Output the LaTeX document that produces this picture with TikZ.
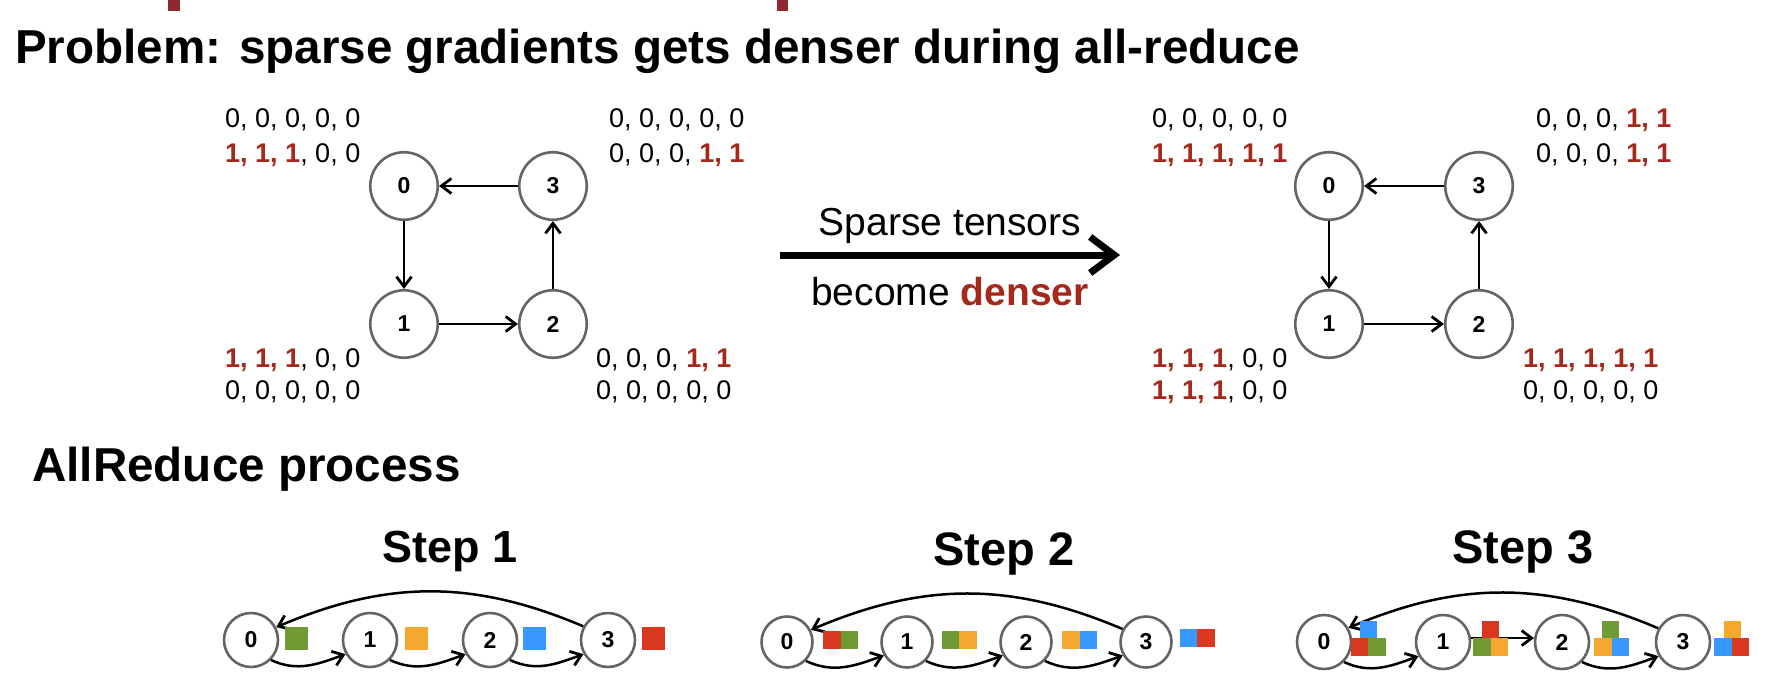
\documentclass[tikz,border=0pt]{standalone}
\usepackage{fontspec}
\setmainfont{Liberation Sans}
\usetikzlibrary{arrows.meta}
\definecolor{txtred}{RGB}{166,40,26}
\definecolor{markred}{RGB}{145,40,48}
\definecolor{ringgray}{RGB}{100,100,100}
\definecolor{cgreen}{RGB}{112,155,52}
\definecolor{corange}{RGB}{244,168,48}
\definecolor{cblue}{RGB}{56,152,255}
\definecolor{cred}{RGB}{216,56,32}
\newcommand\redb[1]{\textcolor{txtred}{\bfseries #1}}
\begin{document}
\begin{tikzpicture}[x=1pt,y=1pt,
  num/.style={anchor=base west, inner sep=0pt, font=\fontsize{27}{32}\selectfont},
  headline/.style={anchor=base west, inner sep=0pt, font=\fontsize{47.6}{56}\selectfont\bfseries},
  steplabel/.style={anchor=base, inner sep=0pt, font=\fontsize{#1}{56}\selectfont\bfseries},
  bignode/.style={circle, draw=ringgray, line width=2.6pt, minimum size=67.5pt, inner sep=0pt, font=\fontsize{23}{27}\selectfont\bfseries},
  smallnode/.style={circle, draw=ringgray, line width=2.6pt, minimum size=#1, inner sep=0pt, font=\fontsize{23}{27}\selectfont\bfseries},
  arr/.style={line width=2.5pt, -{Straight Barb[length=10pt,width=15pt,line width=2.8pt]}},
  sq/.style={fill=#1, draw=none, inner sep=0pt, minimum size=23pt},
  sqs/.style={fill=#1, draw=none, inner sep=0pt, minimum size=17.5pt}
]
\useasboundingbox (0,0) rectangle (1790,-686);

% top marks
\fill[markred] (168,0) rectangle (180,-11);
\fill[markred] (777,0) rectangle (788,-11);

% headings
\node[headline] (title) at (15,-63) {Problem: sparse gradients gets denser during all-reduce};
\node[headline] (allred) at (32,-481) {AllReduce process};

% ---------- left graph ----------
\node[bignode] (L0) at (404,-186) {0};
\node[bignode] (L3) at (553,-186) {3};
\node[bignode] (L1) at (404,-324) {1};
\node[bignode] (L2) at (553,-324) {2};
\draw[arr] (L3) -- (L0);
\draw[arr] (L0) -- (L1);
\draw[arr] (L1) -- (L2);
\draw[arr] (L2) -- (L3);

\node[num] (ltlA) at (225,-127) {0, 0, 0, 0, 0};
\node[num] (ltlB) at (225,-162) {\redb{1, 1, 1}, 0, 0};
\node[num] (ltrA) at (609,-127) {0, 0, 0, 0, 0};
\node[num] (ltrB) at (609,-162) {0, 0, 0, \redb{1, 1}};
\node[num] (lblA) at (225,-367) {\redb{1, 1, 1}, 0, 0};
\node[num] (lblB) at (225,-399) {0, 0, 0, 0, 0};
\node[num] (lbrA) at (596,-367) {0, 0, 0, \redb{1, 1}};
\node[num] (lbrB) at (596,-399) {0, 0, 0, 0, 0};

% ---------- middle arrow ----------
\coordinate (bigS) at (780,-255);
\coordinate (bigE) at (1120,-255);
\draw[line width=7pt, -{Straight Barb[length=24pt,width=36pt]}] (bigS) -- (bigE);
\node[anchor=base, inner sep=0pt, font=\fontsize{39}{46}\selectfont] (sp) at (950,-235) {Sparse tensors};
\node[anchor=base, inner sep=0pt, font=\fontsize{39}{46}\selectfont] (bd) at (950,-305) {become \redb{denser}};

% ---------- right graph ----------
\node[bignode] (R0) at (1329,-186) {0};
\node[bignode] (R3) at (1479,-186) {3};
\node[bignode] (R1) at (1329,-324) {1};
\node[bignode] (R2) at (1479,-324) {2};
\draw[arr] (R3) -- (R0);
\draw[arr] (R0) -- (R1);
\draw[arr] (R1) -- (R2);
\draw[arr] (R2) -- (R3);

\node[num] (rtlA) at (1152,-127) {0, 0, 0, 0, 0};
\node[num] (rtlB) at (1152,-162) {\redb{1, 1, 1, 1, 1}};
\node[num] (rtrA) at (1536,-127) {0, 0, 0, \redb{1, 1}};
\node[num] (rtrB) at (1536,-162) {0, 0, 0, \redb{1, 1}};
\node[num] (rblA) at (1152,-367) {\redb{1, 1, 1}, 0, 0};
\node[num] (rblB) at (1152,-399) {\redb{1, 1, 1}, 0, 0};
\node[num] (rbrA) at (1523,-367) {\redb{1, 1, 1, 1, 1}};
\node[num] (rbrB) at (1523,-399) {0, 0, 0, 0, 0};

% ---------- Step 1 ----------
\node[steplabel=45] (st1) at (450,-562) {Step 1};
\node[smallnode=54pt] (a0) at (251,-640) {0};
\node[smallnode=54pt] (a1) at (370,-640) {1};
\node[smallnode=54pt] (a2) at (490,-640) {2};
\node[smallnode=54pt] (a3) at (608,-640) {3};
\draw[arr] (a0.-45) to[out=-25,in=-160] (a1.-150);
\draw[arr] (a1.-45) to[out=-25,in=-160] (a2.-150);
\draw[arr] (a2.-45) to[out=-25,in=-160] (a3.-150);
\draw[arr] (a3.151) to[out=157,in=23] (a0.27);
\node[sq=cgreen]  (a0g) at (296,-638) {};
\node[sq=corange] (a1o) at (416,-638) {};
\node[sq=cblue]   (a2b) at (534,-638) {};
\node[sq=cred]    (a3r) at (653,-638) {};

% ---------- Step 2 ----------
\node[steplabel=47] (st2) at (1004,-565) {Step 2};
\node[smallnode=51pt] (b0) at (787,-642) {0};
\node[smallnode=51pt] (b1) at (907,-642) {1};
\node[smallnode=51pt] (b2) at (1026,-642) {2};
\node[smallnode=51pt] (b3) at (1146,-642) {3};
\draw[arr] (b0.-45) to[out=-25,in=-160] (b1.-150);
\draw[arr] (b1.-45) to[out=-25,in=-160] (b2.-150);
\draw[arr] (b2.-45) to[out=-25,in=-160] (b3.-150);
\draw[arr] (b3.151) to[out=157,in=23] (b0.27);
\node[sqs=cred]    (b0r) at (832,-640) {};
\node[sqs=cgreen]  (b0g) at (849.5,-640) {};
\node[sqs=cgreen]  (b1g) at (950.5,-640) {};
\node[sqs=corange] (b1o) at (968,-640) {};
\node[sqs=corange] (b2o) at (1071,-640) {};
\node[sqs=cblue]   (b2b) at (1088.5,-640) {};
\node[sqs=cblue]   (b3b) at (1188.5,-638) {};
\node[sqs=cred]    (b3r) at (1206,-638) {};

% ---------- Step 3 ----------
\node[steplabel=47] (st3) at (1523,-563) {Step 3};
\node[smallnode=54pt] (c0) at (1324,-642) {0};
\node[smallnode=54pt] (c1) at (1443,-642) {1};
\node[smallnode=54pt] (c2) at (1562,-642) {2};
\node[smallnode=54pt] (c3) at (1683,-642) {3};
\draw[arr] (c0.-45) to[out=-25,in=-160] (c1.-150);
\draw[arr] (c1.8) -- (c2.172);
\draw[arr] (c2.-45) to[out=-25,in=-160] (c3.-150);
\draw[arr] (c3.151) to[out=157,in=23] (c0.30);
\node[sqs=cblue]   (c0t) at (1368.5,-629.5) {};
\node[sqs=cred]    (c0l) at (1359.5,-647) {};
\node[sqs=cgreen]  (c0r) at (1377,-647) {};
\node[sqs=cred]    (c1t) at (1490.5,-629.5) {};
\node[sqs=cgreen]  (c1l) at (1482,-647) {};
\node[sqs=corange] (c1r) at (1499.5,-647) {};
\node[sqs=cgreen]  (c2t) at (1610.5,-629.5) {};
\node[sqs=corange] (c2l) at (1603,-647) {};
\node[sqs=cblue]   (c2r) at (1620.5,-647) {};
\node[sqs=corange] (c3t) at (1732.5,-629.5) {};
\node[sqs=cblue]   (c3l) at (1723,-647) {};
\node[sqs=cred]    (c3r) at (1740.5,-647) {};
\end{tikzpicture}
\end{document}
